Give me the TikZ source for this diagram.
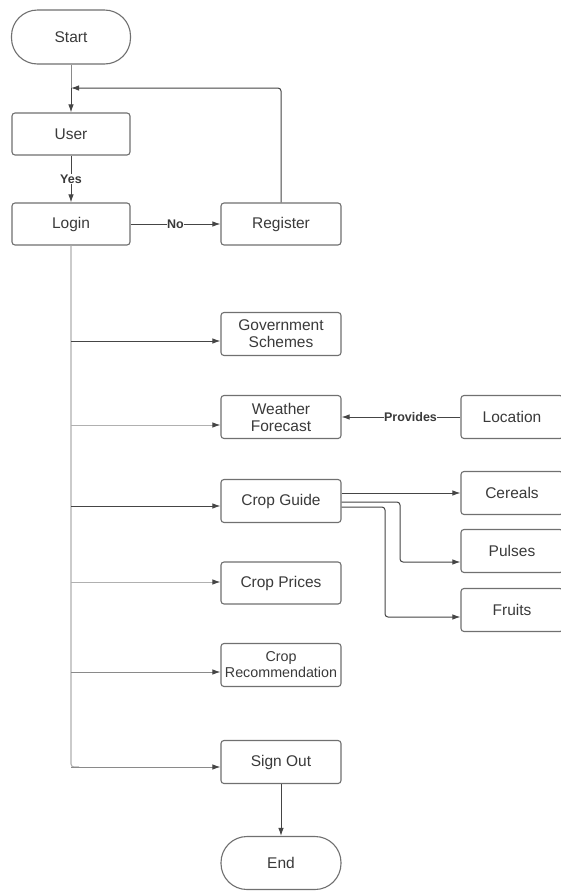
\documentclass[tikz,border=0pt]{standalone}
\usepackage{fontspec}
\setmainfont{Liberation Sans}
\usetikzlibrary{arrows.meta}
\definecolor{txt}{HTML}{3A3A3A}
\definecolor{bord}{HTML}{707070}
\definecolor{dark}{HTML}{454545}
\definecolor{mid}{HTML}{8A8A8A}
\definecolor{light}{HTML}{B0B0B0}
\tikzset{
  x=1pt, y=-1pt,
  box/.style={draw=bord, line width=1.1pt, rounded corners=3pt, minimum width=120pt, minimum height=43pt, inner sep=1pt, align=center, text=txt, font=\fontsize{15.5}{17}\selectfont},
  sbox/.style={box, minimum width=102pt},
  term/.style={box, rounded corners=26pt, minimum width=119pt, minimum height=54pt},
  conn/.style={draw=dark, line width=1pt, -{Latex[length=8pt,width=5.5pt,color=dark]}},
  lbl/.style={fill=white, inner sep=0.5pt, text=txt, font=\bfseries\fontsize{12.5}{13}\selectfont},
}
\begin{document}
\begin{tikzpicture}
\useasboundingbox (0,0) rectangle (561,892);
\fill[white] (0,0) rectangle (561,892);
\node[term] (start) at (71,37) {Start};
\node[box, minimum width=118pt, minimum height=42pt] (user) at (71,134) {User};
\node[box, minimum width=118pt, minimum height=42pt] (login) at (71,224) {Login};
\node[box, minimum height=42pt] (register) at (281,224) {Register};
\node[box] (gov) at (281,334) {Government\\Schemes};
\node[box] (weather) at (281,417) {Weather\\Forecast};
\node[sbox] (location) at (512,417) {Location};
\node[box] (guide) at (281,501) {Crop Guide};
\node[sbox] (cereals) at (512,493) {Cereals};
\node[sbox] (pulses) at (512,551) {Pulses};
\node[sbox] (fruits) at (512,610) {Fruits};
\node[box, minimum height=42pt] (prices) at (281,583) {Crop Prices};
\node[box, font=\fontsize{14.3}{16}\selectfont, inner sep=0pt] (rec) at (281,665) {Crop\\Recommendation};
\node[box] (signout) at (281,762) {Sign Out};
\node[term, minimum width=120pt, minimum height=53pt] (end) at (281,863) {End};

\coordinate (join) at (71,88);
\coordinate (b1) at (71,341);
\coordinate (b2) at (71,425);
\coordinate (b3) at (71,506);
\coordinate (b4) at (71,582);
\coordinate (b5) at (71,672);
\coordinate (b6) at (71,767);
\coordinate (p1) at (400,502);
\coordinate (p2) at (400,562);
\coordinate (f1) at (385,507);
\coordinate (f2) at (385,617);

\draw[draw=mid, line width=1pt] (start.south) -- (join);
\draw[conn] (join) -- (user.north);
\draw[conn, rounded corners=3pt] (register.north) |- (join);
\draw[conn] (user.south) -- node[lbl]{Yes} (login.north);
\draw[conn] (login.east) -- node[lbl]{No} (register.west);

\draw[draw=light, line width=1.1pt, rounded corners=3pt] (login.south) -- (b6) -- ([xshift=8pt]b6);
\draw[conn] (b1) -- (gov.west |- b1);
\draw[conn, draw=light] (b2) -- (weather.west |- b2);
\draw[conn] (b3) -- (guide.west |- b3);
\draw[conn, draw=light] (b4) -- (prices.west |- b4);
\draw[conn, draw=mid] (b5) -- (rec.west |- b5);
\draw[conn, draw=mid] (b6) -- (signout.west |- b6);

\draw[conn] (location.west) -- node[lbl, pos=0.42]{Provides} (weather.east);
\draw[conn] (guide.east |- cereals.west) -- (cereals.west);
\draw[conn, rounded corners=3pt] (guide.east |- p1) -- (p1) -- (p2) -- (pulses.west |- p2);
\draw[conn, rounded corners=3pt] (guide.east |- f1) -- (f1) -- (f2) -- (fruits.west |- f2);
\draw[conn] (signout.south) -- (end.north);
\end{tikzpicture}
\end{document}
